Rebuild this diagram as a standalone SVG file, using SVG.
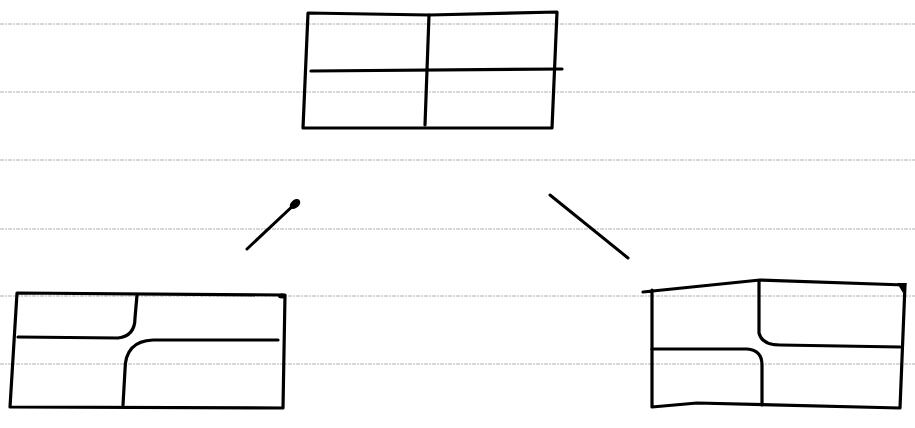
<svg xmlns="http://www.w3.org/2000/svg" width="915" height="428" viewBox="0 0 915 428">
<style>
.rule{stroke:#b0b0b0;stroke-width:1;stroke-dasharray:4 1 2 1;fill:none}
.ink{stroke:#000;stroke-width:3.2;fill:none;stroke-linecap:round;stroke-linejoin:round}
.conn{stroke:#000;stroke-width:3;fill:none;stroke-linecap:round}
</style>
<rect width="915" height="428" fill="#fff"/>
<g id="paper-lines">
<line class="rule" x1="0" y1="24" x2="915" y2="24"/>
<line class="rule" x1="0" y1="92" x2="915" y2="92"/>
<line class="rule" x1="0" y1="160" x2="915" y2="160"/>
<line class="rule" x1="0" y1="229" x2="915" y2="229"/>
<line class="rule" x1="0" y1="296" x2="915" y2="296"/>
<line class="rule" x1="0" y1="364" x2="915" y2="364"/>
</g>
<g id="node-top">
<path class="ink" d="M308,13 L429,15 L557,12 L552,128 L425,128 L303,128 Z"/>
<path class="ink" d="M429,15 L425,125"/>
<path class="ink" d="M311,71 L562,69"/>
</g>
<g id="node-bottom-left">
<path class="ink" d="M17,293 L285,295 L283,408 L10,407 Z"/>
<ellipse cx="282" cy="296" rx="4" ry="2.5"/>
<path class="ink" d="M18,337 L118,338 Q135,336 135,318 L137,295"/>
<path class="ink" d="M278,340 L153,340 Q125,341 125,370 L123,405"/>
</g>
<g id="node-bottom-right">
<path class="ink" d="M643,292 L760,280 L905,285 L900,408 L697,403 L652,407 L652,290"/>
<path d="M897,283 L907,283 L903,293 Z"/>
<path class="ink" d="M759,281 L759,333 Q762,345 780,345 L900,347"/>
<path class="ink" d="M652,349 L747,349 Q762,350 762,365 L762,405"/>
</g>
<g id="connectors">
<path class="conn" d="M247,249 L297,202"/>
<ellipse cx="295" cy="204" rx="6" ry="4" transform="rotate(-40 295 204)"/>
<path class="conn" d="M550,195 L628,258"/>
</g>
</svg>
